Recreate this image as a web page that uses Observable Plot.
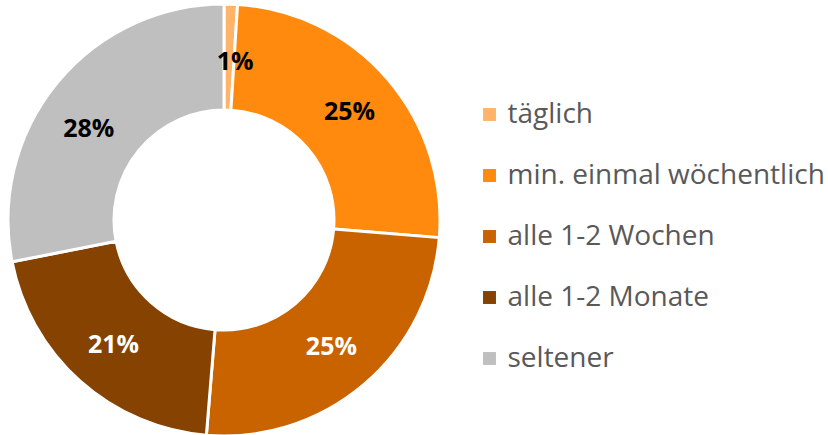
<!DOCTYPE html>
<html><head><meta charset="utf-8">
<script src="https://cdn.jsdelivr.net/npm/d3@7"></script>
<script src="https://cdn.jsdelivr.net/npm/@observablehq/plot@0.6"></script>
<style>body{margin:0;background:#fff}</style>
</head><body><div id="chart"></div>
<script>
const categories = ["täglich", "min. einmal wöchentlich", "alle 1-2 Wochen", "alle 1-2 Monate", "seltener"];
const shares = [1, 25.3, 25, 20.6, 28.1];
const shareLabels = ["1%", "25%", "25%", "21%", "28%"];
const colors = ["#FFB469", "#FF8A0D", "#C96300", "#854200", "#BFBFBF"];
const labelColors = ["#000000", "#000000", "#FFFFFF", "#FFFFFF", "#000000"];

const data = categories.map((c, i) => ({category: c, share: shares[i], label: shareLabels[i], labelColor: labelColors[i]}));

const FONT = "'Open Sans', Lato, sans-serif";
// small label nudges (as in the original chart's label placement)
const nudges = [[6, 7], [0, 0], [0, 0], [0, 0], [-7, 14]];

function donut(index, scales, values, dimensions) {
  const color = scales.color || (c => colors[categories.indexOf(c)]);
  const cx = 224, cy = 220, rOuter = 216, rInner = 110;
  const pie = d3.pie().sort(null).value(d => d.share)(data);
  const arc = d3.arc().innerRadius(rInner).outerRadius(rOuter);
  const labelArc = d3.arc().innerRadius(166).outerRadius(166);
  const g = d3.create("svg:g").attr("transform", `translate(${cx},${cy})`);
  g.selectAll("path").data(pie).join("path")
    .attr("d", arc)
    .attr("fill", d => color(d.data.category))
    .attr("stroke", "#fff")
    .attr("stroke-width", 3)
    .attr("stroke-linejoin", "round");
  g.selectAll("text").data(pie).join("text")
    .attr("transform", (d, i) => {
      const [x, y] = labelArc.centroid(d);
      return `translate(${x + nudges[i][0]},${y + nudges[i][1]})`;
    })
    .attr("text-anchor", "middle")
    .attr("dy", "0.35em")
    .attr("font-family", FONT)
    .attr("font-weight", "bold")
    .attr("font-size", 25)
    .attr("fill", d => d.data.labelColor)
    .text(d => d.data.label);
  return g.node();
}

const chart = Plot.plot({
  width: 828,
  height: 435,
  margin: 0,
  y: {type: "point", domain: categories, range: [113, 358], padding: 0, axis: null},
  color: {domain: categories, range: colors},
  marks: [
    donut,
    Plot.dot(data, {y: "category", fill: "category", symbol: "square", r: 7.3, frameAnchor: "left", dx: 489}),
    Plot.text(data, {y: "category", text: "category", frameAnchor: "left", dx: 507, textAnchor: "start",
      fontSize: 28, fill: "#595959", fontFamily: FONT})
  ]
});
document.getElementById("chart").appendChild(chart);
</script>
</body></html>
